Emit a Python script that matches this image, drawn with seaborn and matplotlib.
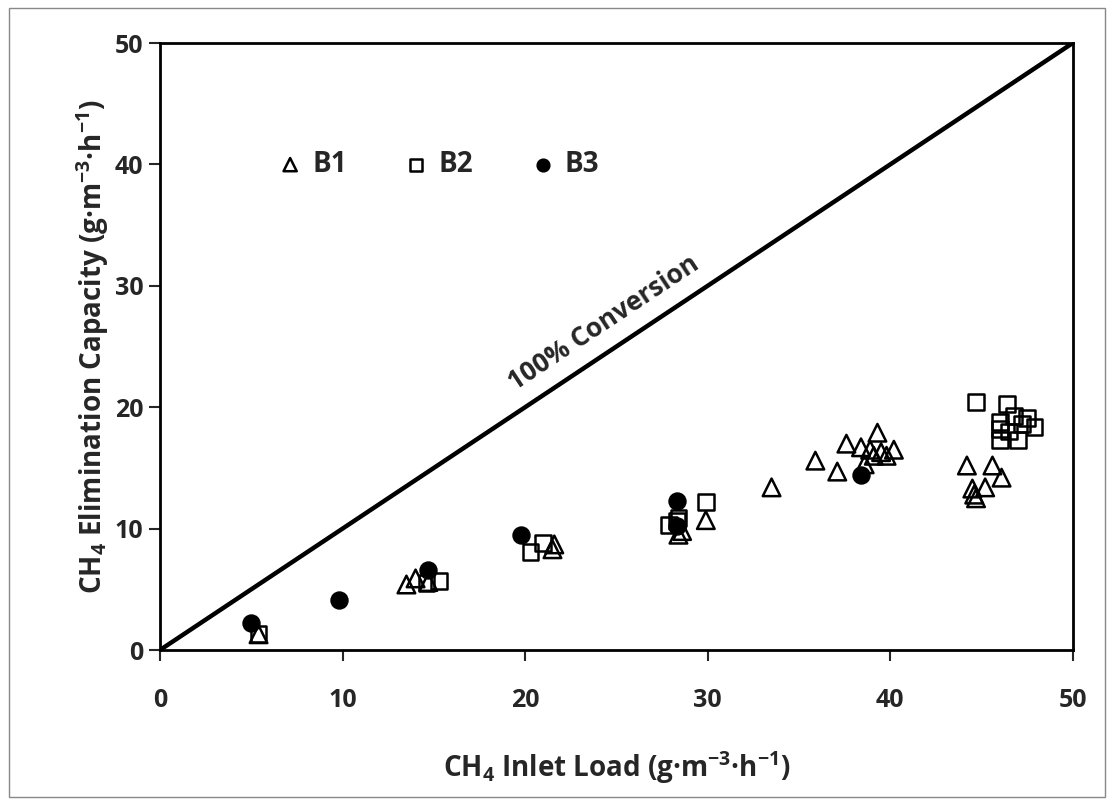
import numpy as np
import pandas as pd
import seaborn as sns
import matplotlib.pyplot as plt
from matplotlib.patches import Rectangle

# Dados (carga de entrada x capacidade de eliminação)
b1_load = [5.4, 13.5, 14.0, 14.7, 21.5, 21.6, 28.4, 28.6, 29.9, 33.5, 35.9, 37.1,
           37.6, 38.4, 38.6, 38.9, 39.1, 39.3, 39.5, 39.8, 40.2,
           44.2, 44.5, 44.6, 44.7, 45.2, 45.6, 46.1]
b1_ec = [1.3, 5.4, 5.9, 5.6, 8.3, 8.7, 9.5, 9.8, 10.7, 13.4, 15.6, 14.7,
         17.0, 16.7, 15.3, 16.5, 16.0, 17.9, 16.3, 16.0, 16.5,
         15.2, 13.3, 12.8, 12.5, 13.4, 15.2, 14.2]

b2_load = [5.4, 14.6, 15.3, 20.3, 21.0, 27.9, 28.3, 28.4, 29.9,
           44.7, 46.0, 46.0, 46.0, 46.4, 46.8, 47.0, 47.2, 47.5, 47.9, 46.5]
b2_ec = [1.3, 5.5, 5.7, 8.1, 8.8, 10.3, 10.6, 10.9, 12.2,
         20.4, 18.8, 18.2, 17.3, 20.3, 19.3, 17.3, 18.6, 19.1, 18.4, 18.0]

b3_load = [5.0, 9.8, 14.7, 19.8, 28.3, 28.3, 38.4]
b3_ec = [2.2, 4.1, 6.6, 9.5, 12.3, 10.2, 14.4]

linha_100 = [0, 50]
ticks = [0, 10, 20, 30, 40, 50]

FONTE = "Open Sans"
sns.set_style("ticks")
plt.rcParams["font.family"] = [FONTE, "DejaVu Sans"]
plt.rcParams["font.weight"] = "bold"
plt.rcParams["mathtext.fontset"] = "custom"
plt.rcParams["mathtext.bf"] = FONTE + ":bold"
plt.rcParams["mathtext.rm"] = FONTE + ":bold"
plt.rcParams["mathtext.default"] = "bf"

fig = plt.figure(figsize=(11.14, 8.07), dpi=100)
ax = fig.add_axes([0.1436, 0.1945, 0.8194, 0.7522])

# linha de 100% de conversão
sns.lineplot(x=linha_100, y=linha_100, color="black", lw=3.2, ax=ax)

df1 = pd.DataFrame({"load": b1_load, "ec": b1_ec})
df2 = pd.DataFrame({"load": b2_load, "ec": b2_ec})
df3 = pd.DataFrame({"load": b3_load, "ec": b3_ec})

sns.scatterplot(data=df1, x="load", y="ec", marker="^", s=160, facecolor="none",
                edgecolor="black", linewidth=1.8, label="B1", ax=ax, zorder=3)
sns.scatterplot(data=df2, x="load", y="ec", marker="s", s=130, facecolor="none",
                edgecolor="black", linewidth=1.8, label="B2", ax=ax, zorder=3)
sns.scatterplot(data=df3, x="load", y="ec", marker="o", s=150, color="black",
                edgecolor="black", linewidth=1, label="B3", ax=ax, zorder=4)

ax.set_xlim(0, 50)
ax.set_ylim(0, 50)
ax.set_xticks(ticks)
ax.set_yticks(ticks)
ax.tick_params(axis="both", labelsize=18, length=8, width=1.5, direction="out")
ax.tick_params(axis="x", pad=19)
ax.tick_params(axis="y", pad=4)
for lbl in ax.get_xticklabels() + ax.get_yticklabels():
    lbl.set_fontweight("bold")
for sp in ax.spines.values():
    sp.set_visible(True)
    sp.set_linewidth(2)
    sp.set_color("black")

ax.set_xlabel(r"CH$_4$ Inlet Load (g·m$^{-3}$·h$^{-1}$)", fontsize=20,
              fontweight="bold", labelpad=26)
ax.set_ylabel(r"CH$_4$ Elimination Capacity (g·m$^{-3}$·h$^{-1}$)", fontsize=20,
              fontweight="bold", labelpad=3)

# rótulo ao longo da linha
p0 = ax.transData.transform((0, 0))
p1 = ax.transData.transform((50, 50))
ang = np.degrees(np.arctan2(p1[1] - p0[1], p1[0] - p0[0]))
ax.text(24.3, 26.9, "100% Conversion", rotation=ang, rotation_mode="anchor",
        ha="center", va="center", fontsize=19, fontweight="bold")

leg = ax.legend(loc="center left", bbox_to_anchor=(0.10, 0.80), ncol=3, frameon=False,
                prop={"weight": "bold", "size": 20}, markerscale=0.75,
                handletextpad=0.3, columnspacing=2.0, handlelength=1.0)

# moldura externa da figura
fig.patches.append(Rectangle((0.008, 0.012), 0.984, 0.978, transform=fig.transFigure,
                             fill=False, edgecolor="#888888", lw=1))

plt.savefig("out.png", dpi=100)
plt.close()
